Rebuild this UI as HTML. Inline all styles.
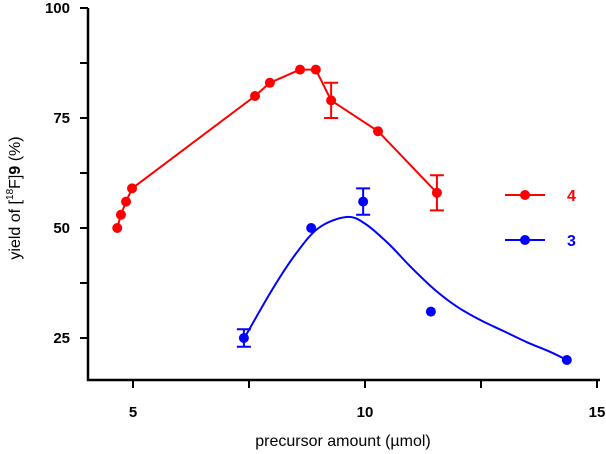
<!DOCTYPE html>
<html><head><meta charset="utf-8"><style>
body{margin:0;background:#fff;}
svg{display:block;font-family:"Liberation Sans",Arial,sans-serif;}
</style></head><body>
<svg id="chart" width="606" height="454">
<g id="axes"></g><g id="marks"></g>
<text x="343" y="446" text-anchor="middle" font-size="16" fill="#000">precursor amount (µmol)</text>
<text transform="translate(20,198) rotate(-90)" text-anchor="middle" font-size="16" fill="#000">yield of [<tspan font-size="10" dy="-7">18</tspan><tspan dy="7">F]</tspan><tspan font-weight="bold">9</tspan> (%)</text>
</svg>
<script>
const xTicks=[5,10,15];
const xMinor=[7.5,12.5];
const yTicks=[25,50,75,100];
const yMinor=[37.5,62.5,87.5];
const redX=[4.66,4.74,4.85,4.98,7.63,7.95,8.6,8.94,9.27,10.28,11.55];
const redY=[50,53,56,59,80,83,86,86,79,72,58];
const redErr=[0,0,0,0,0,0,0,0,4,0,4];
const blueX=[7.39,8.84,9.96,11.42,14.35];
const blueY=[25,50,56,31,20];
const blueErr=[2,0,3,0,0];
const blueFitX=[7.4,8,8.5,9,9.6,10,10.5,11,11.5,12,12.5,13,13.5,14,14.35];
const blueFitY=[25,36,44,50,52.5,51,46.5,41,36,32,29,26.5,24,21.8,20];
const legendLabels=["4","3"];

const X=v=>133+(v-5)*46.4;
const Y=v=>8+(100-v)*4.4;
const NS="http://www.w3.org/2000/svg";
const axes=document.getElementById('axes'),marks=document.getElementById('marks');
function mk(tag,attrs,parent){const e=document.createElementNS(NS,tag);for(const k in attrs)e.setAttribute(k,attrs[k]);parent.appendChild(e);return e;}
let a=mk('path',{d:`M88,8 V380 H600`,fill:'none',stroke:'#000','stroke-width':2.5},axes);


xTicks.concat(xMinor).forEach(v=>{const t=mk('line',{x1:X(v),x2:X(v),y1:380,y2:388,stroke:'#000','stroke-width':2},axes);

});
xTicks.forEach(v=>{const t=mk('text',{x:X(v),y:417,'text-anchor':'middle','font-size':15,'font-weight':'bold'},axes);t.textContent=v;

});
yTicks.concat(yMinor).forEach(v=>{const t=mk('line',{x1:80,x2:88,y1:Y(v),y2:Y(v),stroke:'#000','stroke-width':2},axes);

});
yTicks.forEach(v=>{const t=mk('text',{x:70,y:Y(v)+5,'text-anchor':'end','font-size':15,'font-weight':'bold'},axes);t.textContent=v;

});
function smooth(xs,ys){const p=xs.map((x,i)=>[X(x),Y(ys[i])]);let d=`M${p[0][0]},${p[0][1]}`;
for(let i=0;i<p.length-1;i++){const p0=p[i-1]||p[i],p1=p[i],p2=p[i+1],p3=p[i+2]||p2;
d+=` C${p1[0]+(p2[0]-p0[0])/6},${p1[1]+(p2[1]-p0[1])/6} ${p2[0]-(p3[0]-p1[0])/6},${p2[1]-(p3[1]-p1[1])/6} ${p2[0]},${p2[1]}`;}return d;}
function poly(xs,ys){return 'M'+xs.map((x,i)=>X(x)+','+Y(ys[i])).join(' L');}
let rl=mk('path',{d:poly(redX,redY),fill:'none',stroke:'#f00','stroke-width':2,'stroke-linejoin':'round'},marks);


let bl=mk('path',{d:smooth(blueFitX,blueFitY),fill:'none',stroke:'#00f','stroke-width':2},marks);


function pts(xs,ys,errs,col,name){xs.forEach((x,i)=>{if(errs[i]){const cx=X(x),t=Y(ys[i]+errs[i]),b=Y(ys[i]-errs[i]);
const e=mk('path',{d:`M${cx},${t}V${b}M${cx-7},${t}H${cx+7}M${cx-7},${b}H${cx+7}`,stroke:col,'stroke-width':2,fill:'none'},marks);

}
const c=mk('circle',{cx:X(x),cy:Y(ys[i]),r:5,fill:col},marks);

});}
pts(redX,redY,redErr,'#f00','series-4');
pts(blueX,blueY,blueErr,'#00f','series-3');
[['#f00',195],['#00f',240]].forEach(([col,y],i)=>{const g=mk('g',{},marks);


mk('line',{x1:505,x2:545,y1:y,y2:y,stroke:col,'stroke-width':2},g);mk('circle',{cx:525,cy:y,r:5,fill:col},g);
const t=mk('text',{x:567,y:y+6,'font-size':16,'font-weight':'bold',fill:col},g);t.textContent=legendLabels[i];});
</script>
</body></html>
